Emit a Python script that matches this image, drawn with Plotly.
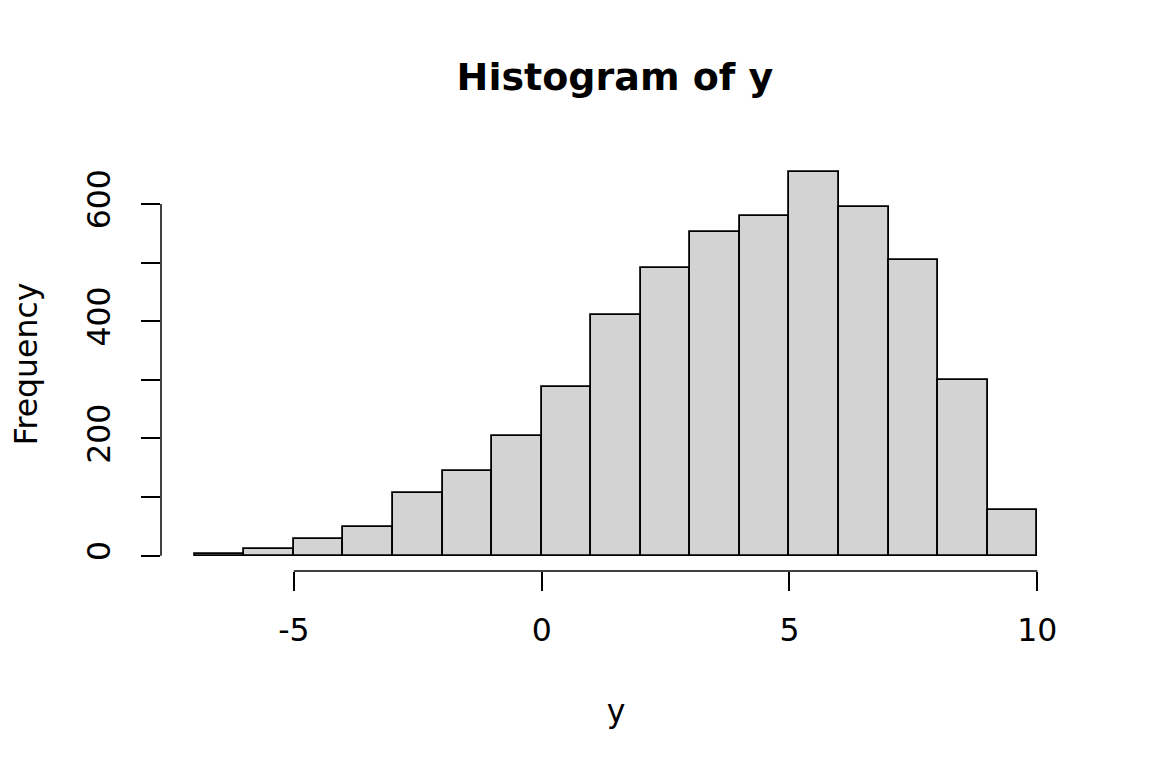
import plotly.graph_objects as go

edges = [-7, -6, -5, -4, -3, -2, -1, 0, 1, 2, 3, 4, 5, 6, 7, 8, 9, 10]
counts = [2, 12, 28, 49, 107, 144, 205, 287, 410, 491, 552, 580, 654, 595, 504, 299, 78]
xticks = [-5, 0, 5, 10]
yticks = [0, 100, 200, 300, 400, 500, 600]
ylabels = ["0", "", "200", "", "400", "", "600"]

mids = [(a + b) / 2 for a, b in zip(edges[:-1], edges[1:])]
widths = [b - a for a, b in zip(edges[:-1], edges[1:])]

FONT = "DejaVu Sans"
fs = 31.5

W, H = 1144, 760  # page body has an 8px default margin

fig = go.Figure()
fig.add_trace(go.Bar(
    x=mids, y=counts, width=widths,
    marker=dict(color="#D3D3D3", line=dict(color="black", width=1.8)),
    hoverinfo="x+y",
))

xr0, xr1 = edges[0], edges[-1]
xpad = 0.04 * (xr1 - xr0)
ymax = max(counts)
ypad = 0.04 * ymax

fig.update_layout(
    width=W, height=H,
    margin=dict(l=150, r=81, t=149, b=197),
    paper_bgcolor="white", plot_bgcolor="white",
    showlegend=False, bargap=0,
    font=dict(family=FONT, size=fs, color="black"),
    title=dict(text="<b>Histogram of y</b>", x=607 / W, xanchor="center",
               y=1 - 69 / H, yanchor="middle",
               font=dict(family=FONT, size=38, color="black")),
    xaxis=dict(range=[xr0 - xpad, xr1 + xpad], tickvals=xticks,
               ticktext=[str(v) for v in xticks],
               ticks="outside", ticklen=19, tickwidth=1.5, tickcolor="black",
               showgrid=False, zeroline=False, showline=False,
               ticklabelstandoff=12,
               title=dict(text="y", standoff=53, font=dict(size=fs))),
    yaxis=dict(range=[-ypad, ymax + ypad], tickvals=yticks, ticktext=ylabels,
               ticks="outside", ticklen=19, tickwidth=1.5, tickcolor="black",
               tickangle=-90, showgrid=False, zeroline=False, showline=False,
               ticklabelstandoff=18,
               title=dict(text="Frequency", standoff=39, font=dict(size=fs))),
)

# R-style axis lines spanning only the tick range
fig.add_shape(type="line", xref="x", yref="paper", x0=xticks[0], x1=xticks[-1],
              y0=0, y1=0, line=dict(color="black", width=1.5))
fig.add_shape(type="line", xref="paper", yref="y", x0=0, x1=0,
              y0=yticks[0], y1=yticks[-1], line=dict(color="black", width=1.5))

fig.write_html("out.html")
